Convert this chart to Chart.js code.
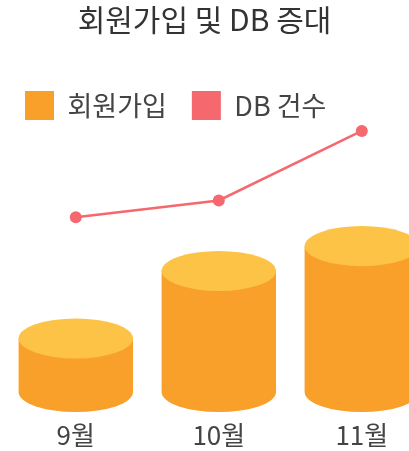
<!DOCTYPE html>
<html>
<head>
<meta charset="utf-8">
<script src="https://cdn.jsdelivr.net/npm/chart.js@4"></script>
<style>
  html, body { margin: 0; padding: 0; background: #fff; overflow: hidden; }
  #wrap { width: 409px; height: 451px; }
</style>
</head>
<body>
<div id="wrap"><canvas id="dbChart"></canvas></div>
<script>
const months = ["9월", "10월", "11월"];
const signups = [54, 122, 147];
const dbCounts = [176, 193, 263];

const orange = "#F9A02A";
const orangeTop = "#FCC346";
const pink = "#F4686E";

// draws the member bars as cylinders instead of flat boxes
const cylinderBars = {
    id: "cylinderBars",
    beforeDatasetDraw(chart, args) {
        if (args.index !== 0) return;
        const ctx = chart.ctx;
        const meta = chart.getDatasetMeta(0);
        meta.data.forEach(bar => {
            const w = bar.width;
            const ry = w * 0.175;
            const left = bar.x - w / 2;
            ctx.save();
            ctx.fillStyle = orange;
            ctx.fillRect(left, bar.y, w, bar.base - bar.y);
            ctx.beginPath();
            ctx.ellipse(bar.x, bar.base, w / 2, ry, 0, 0, Math.PI);
            ctx.fill();
            ctx.fillStyle = orangeTop;
            ctx.beginPath();
            ctx.ellipse(bar.x, bar.y, w / 2, ry, 0, 0, Math.PI * 2);
            ctx.fill();
            ctx.restore();
        });
        return false;
    }
};

new Chart(document.getElementById("dbChart"), {
    type: "bar",
    data: {
        datasets: [
            {
                label: "회원가입",
                data: signups.map((v, i) => ({x: i + 1, y: v})),
                backgroundColor: orange,
                categoryPercentage: 0.8,
                barPercentage: 1,
                order: 2
            },
            {
                type: "line",
                label: "DB 건수",
                data: dbCounts.map((v, i) => ({x: i + 1, y: v})),
                borderColor: pink,
                backgroundColor: pink,
                borderWidth: 2.5,
                pointRadius: 6,
                pointBorderWidth: 0,
                tension: 0,
                clip: false,
                order: 1
            }
        ]
    },
    options: {
        responsive: true,
        maintainAspectRatio: false,
        animation: false,
        layout: { padding: 0, autoPadding: false },
        plugins: {
            title: {
                display: true,
                text: "회원가입 및 DB 증대",
                color: "#333",
                font: { family: "Noto Sans CJK KR", size: 30, weight: "normal" },
                padding: { top: 2, bottom: 28 }
            },
            legend: {
                align: "start",
                labels: {
                    boxWidth: 29,
                    boxHeight: 29,
                    padding: 25,
                    color: "#444",
                    font: { family: "Noto Sans CJK KR", size: 27 },
                    generateLabels(chart) {
                        return chart.data.datasets.map((ds, i) => ({
                            text: ds.label,
                            fillStyle: ds.backgroundColor,
                            strokeStyle: ds.backgroundColor,
                            lineWidth: 0,
                            datasetIndex: i,
                            fontColor: "#444"
                        }));
                    }
                }
            },
            tooltip: { enabled: false }
        },
        scales: {
            x: {
                type: "linear",
                offset: false,
                min: 0.47,
                max: 3.33,
                grid: { display: false, drawTicks: false, tickLength: 0 },
                border: { display: false },
                afterFit(scale) {
                    scale.height = 59;
                    scale.paddingLeft = 0;
                    scale.paddingRight = 0;
                },
                ticks: {
                    stepSize: 1,
                    includeBounds: false,
                    maxRotation: 0,
                    autoSkip: false,
                    padding: 28,
                    color: "#444",
                    font: { family: "Noto Sans CJK KR", size: 26 },
                    callback: v => Number.isInteger(v) ? months[v - 1] : ""
                }
            },
            y: {
                display: false,
                min: 0,
                max: 264
            }
        }
    },
    plugins: [cylinderBars]
});
</script>
</body>
</html>
